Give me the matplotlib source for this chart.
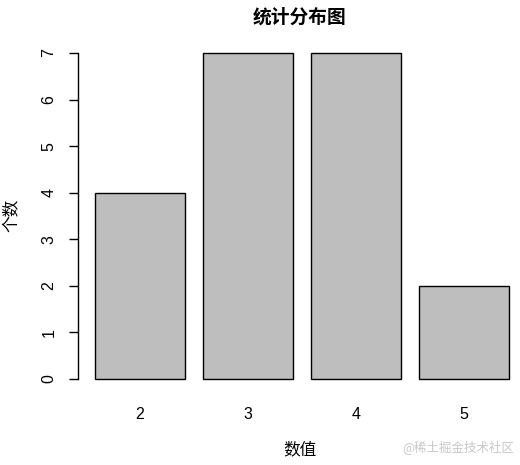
import numpy as np
import matplotlib.pyplot as plt

plt.rcParams['font.family'] = ['Noto Sans CJK SC', 'DejaVu Sans']

# data
values = ['2', '3', '4', '5']
counts = [4, 7, 7, 2]

# R style barplot layout: width 1, space 0.2
width = 1.0
space = 0.2
centers = space + width / 2 + np.arange(len(values)) * (width + space)

fig = plt.figure(figsize=(5.2, 4.65), dpi=100)
ax = fig.add_axes([78 / 520, 0.157, 442 / 520, 0.757])

ax.bar(centers, counts, width=width, color='#bebebe', edgecolor='black', linewidth=1.0)

ax.set_xlim(0.011, 4.922)
ax.set_ylim(-0.28, 7.28)

for s in ['top', 'right', 'bottom']:
    ax.spines[s].set_visible(False)
ax.spines['left'].set_bounds(0, 7)
ax.spines['left'].set_linewidth(1.0)

ax.set_yticks(range(0, 8))
ax.set_yticklabels([str(i) for i in range(0, 8)], rotation=90, va='center', fontsize=11.5,
                   family='Liberation Sans')
ax.tick_params(axis='y', length=6.5, width=1.0, pad=9)

ax.set_xticks(centers)
ax.set_xticklabels(values, fontsize=11.5, family='Liberation Sans')
ax.tick_params(axis='x', length=0, pad=11)

fig.text(300 / 520, 1 - 17 / 465, '统计分布图', ha='center', va='center', fontsize=13.5, fontweight='bold')
fig.text(300 / 520, 1 - 450 / 465, '数值', ha='center', va='center', fontsize=12)
fig.text(12 / 520, 1 - 215 / 465, '个数', ha='center', va='center', fontsize=12, rotation=90)
fig.text(458 / 520, 1 - 447 / 465, '@稀土掘金技术社区', ha='center', va='center', fontsize=9, color='#c8c8c8')

fig.savefig('out.png', dpi=100)
